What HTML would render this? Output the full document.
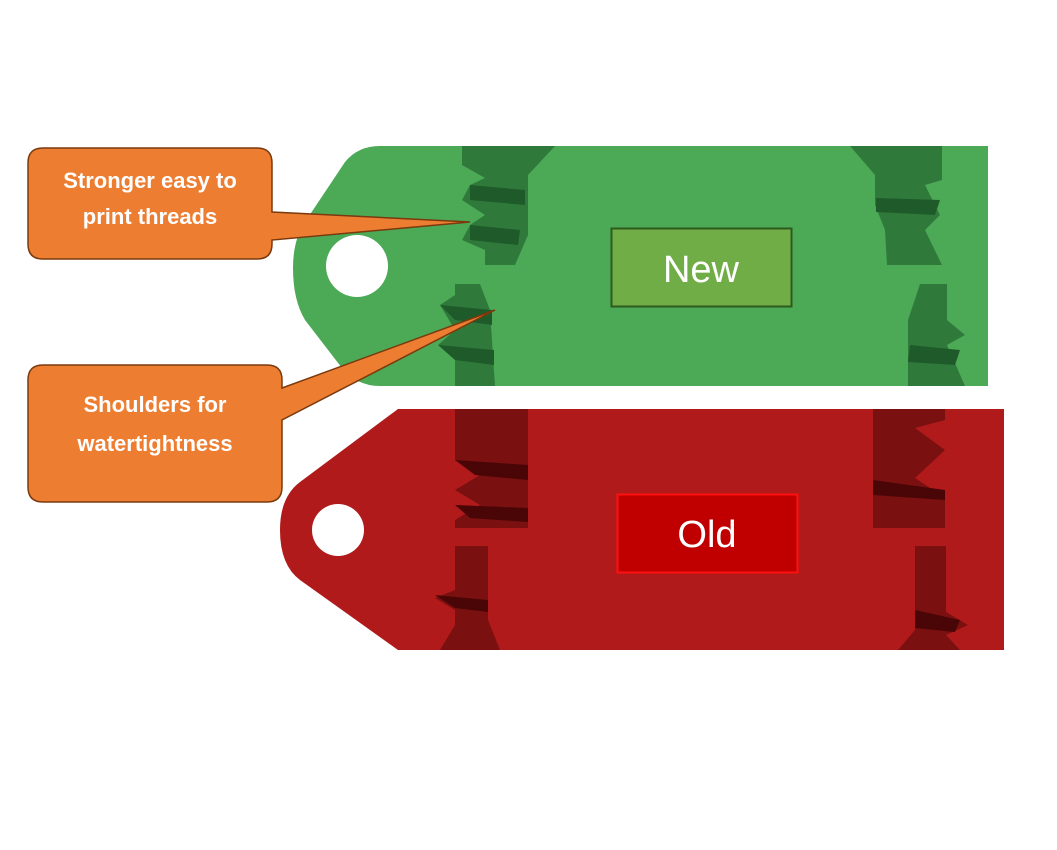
<!DOCTYPE html>
<html><head><meta charset="utf-8"><style>
html,body{margin:0;padding:0;background:#fff;width:1057px;height:850px;overflow:hidden}
svg{display:block}
text{font-family:"Liberation Sans",sans-serif}
</style></head><body>
<svg width="1057" height="850" viewBox="0 0 1057 850">
<!-- green tag -->
<path d="M380,146 L988,146 L988,386 L380,386 Q360,386 345,372 L305,320 Q293,300 293,268 Q293,240 305,222 L345,162 Q358,146 380,146 Z" fill="#4caa57"/>
<circle cx="357" cy="266" r="31" fill="#fff"/>
<!-- green threads left top -->
<polygon points="462,146 555,146 528,175 528,235 515,265 485,265 485,250 462,240 470,225 485,215 462,200 470,185 485,178 462,165" fill="#2f7a3b"/>
<polygon points="470,185 525,190 525,205 470,200" fill="#1f5a2a"/>
<polygon points="470,225 520,230 518,245 470,240" fill="#1f5a2a"/>
<!-- green threads left bottom -->
<polygon points="455,284 480,284 490,310 495,386 455,386 455,355 438,345 455,330 440,305 455,295" fill="#2f7a3b"/>
<polygon points="440,305 492,310 492,325 455,320" fill="#1f5a2a"/>
<polygon points="438,345 494,350 494,365 455,360" fill="#1f5a2a"/>
<!-- green threads right -->
<polygon points="850,146 942,146 942,180 925,185 940,215 925,230 942,265 887,265 885,230 875,205 875,175" fill="#2f7a3b"/>
<polygon points="876,198 940,200 935,215 876,212" fill="#1f5a2a"/>
<polygon points="920,284 947,284 947,320 965,335 947,345 965,386 908,386 908,320" fill="#2f7a3b"/>
<polygon points="910,345 960,350 955,365 908,362" fill="#1f5a2a"/>
<!-- red tag -->
<path d="M398,409 L1004,409 L1004,650 L398,650 L300,580 Q280,565 280,530 Q280,497 300,482 Z" fill="#b11a1a"/>
<circle cx="338" cy="530" r="26" fill="#fff"/>
<!-- red threads -->
<polygon points="455,409 528,409 528,528 455,528 455,520 480,505 455,490 480,475 455,460" fill="#7a1010"/>
<polygon points="455,460 528,465 528,480 475,475" fill="#4a0606"/>
<polygon points="455,505 528,508 528,522 470,518" fill="#4a0606"/>
<polygon points="455,546 488,546 488,620 500,650 440,650 455,625 455,610 435,598 455,590" fill="#7a1010"/>
<polygon points="435,595 488,600 488,612 455,608" fill="#4a0606"/>
<polygon points="873,409 945,409 945,420 915,428 945,450 915,478 945,498 945,528 873,528" fill="#7a1010"/>
<polygon points="873,480 945,490 945,500 873,495" fill="#4a0606"/>
<polygon points="915,546 946,546 946,612 968,625 946,635 960,650 898,650 915,630" fill="#7a1010"/>
<polygon points="915,610 960,620 955,632 915,628" fill="#4a0606"/>
<!-- label boxes -->
<rect x="611.5" y="228.5" width="180" height="78" fill="#70ad47" stroke="#2e5a1e" stroke-width="2"/>
<text x="701" y="282" font-size="38" fill="#fff" text-anchor="middle">New</text>
<rect x="617.5" y="494.5" width="180" height="78" fill="#c00000" stroke="#ff1010" stroke-width="2"/>
<text x="707" y="547" font-size="38" fill="#fff" text-anchor="middle">Old</text>
<!-- callout 1 -->
<path d="M43,148 L257,148 Q272,148 272,163 L272,212 L470,222 L272,240 L272,244 Q272,259 257,259 L43,259 Q28,259 28,244 L28,163 Q28,148 43,148 Z" fill="#ed7d31" stroke="#7a3a0e" stroke-width="1.5"/>
<text x="150" y="188" font-size="22" font-weight="bold" fill="#fff" text-anchor="middle">Stronger easy to</text>
<text x="150" y="224" font-size="22" font-weight="bold" fill="#fff" text-anchor="middle">print threads</text>
<!-- callout 2 -->
<path d="M43,365 L267,365 Q282,365 282,380 L282,388 L495,310 L282,420 L282,487 Q282,502 267,502 L43,502 Q28,502 28,487 L28,380 Q28,365 43,365 Z" fill="#ed7d31" stroke="#7a3a0e" stroke-width="1.5"/>
<text x="155" y="412" font-size="22" font-weight="bold" fill="#fff" text-anchor="middle">Shoulders for</text>
<text x="155" y="451" font-size="22" font-weight="bold" fill="#fff" text-anchor="middle">watertightness</text>
</svg>
</body></html>
